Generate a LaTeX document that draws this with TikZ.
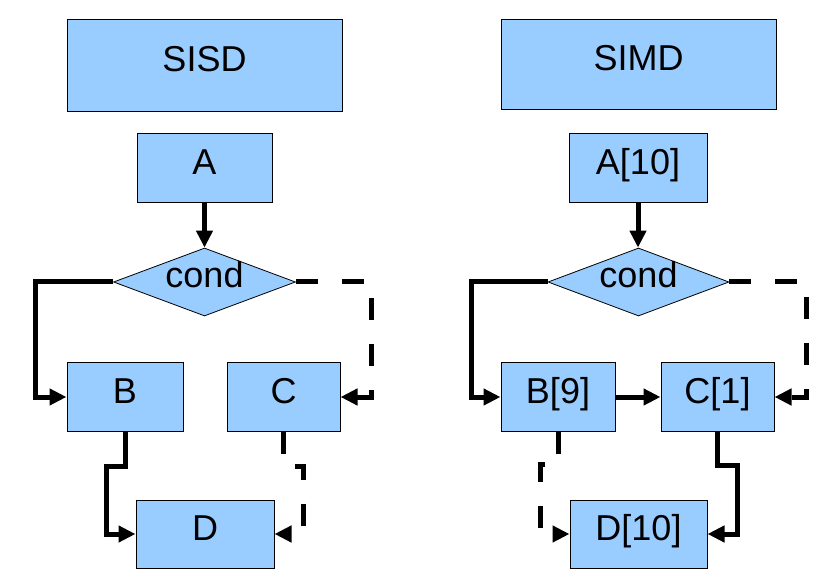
\documentclass[tikz,border=0pt]{standalone}
\usepackage{fontspec}
\setmainfont{Liberation Sans}
\usetikzlibrary{shapes.geometric,arrows.meta}
\definecolor{boxblue}{HTML}{99CCFF}
\tikzset{
  box/.style={draw=black, line width=1pt, fill=boxblue, rectangle, inner sep=0pt,
    font=\fontsize{36}{36}\selectfont, text height=12pt, text depth=0pt},
  dia/.style={draw=black, line width=0.8pt, fill=boxblue, diamond, aspect=2.7, inner sep=0pt,
    minimum width=182pt, minimum height=68pt,
    font=\fontsize{36}{36}\selectfont, text height=12pt, text depth=0pt},
  flow/.style={line width=5pt, -{Triangle[length=17pt 0 0,width=16pt 0 0]}},
  solidflow/.style={flow},
  dashflow/.style={flow, dash pattern=on 22pt off 24pt},
}
\begin{document}
\begin{tikzpicture}[x=1pt,y=-1pt]
\useasboundingbox (0,0) rectangle (833,585);
% SISD
\node[box, minimum width=275pt, minimum height=92pt] (sisd) at (204.5,66) {SISD};
\node[box, minimum width=135pt, minimum height=69pt] (a) at (204.5,168.5) {A};
\node[dia] (cond) at (204.5,282) {cond};
\node[box, minimum width=116pt, minimum height=68pt] (b) at (125,397) {B};
\node[box, minimum width=113pt, minimum height=68pt] (c) at (283.5,397) {C};
\node[box, minimum width=138pt, minimum height=68pt] (d) at (205,534) {D};
\draw[solidflow] (a) -- (cond);
\draw[solidflow] (cond.west) -- ++(-78,0) |- (b.west);
\draw[dashflow] (cond.east) -- ++(76,0) |- (c.east);
\draw[solidflow] (b.south) -- ++(0,35) -- ++(-19,0) |- (d.west);
\draw[dashflow] (c.south) -- ++(0,35) -- ++(20,0) |- (d.east);
% SIMD
\node[box, minimum width=275pt, minimum height=90pt] (simd) at (638.5,65) {SIMD};
\node[box, minimum width=138pt, minimum height=69pt] (a2) at (638,168.5) {A[10]};
\node[dia, minimum width=181pt] (cond2) at (638.5,282) {cond};
\node[box, minimum width=114pt, minimum height=68pt] (b2) at (558,397) {B[9]};
\node[box, minimum width=113pt, minimum height=68pt] (c2) at (717.5,397) {C[1]};
\node[box, minimum width=137pt, minimum height=68pt] (d2) at (638.5,534) {D[10]};
\draw[solidflow] (a2.south) -- (a2.south |- cond2.north);
\draw[solidflow] (cond2.west) -- ++(-76,0) |- (b2.west);
\draw[dashflow] (cond2.east) -- ++(77,0) |- (c2.east);
\draw[solidflow] (b2.east) -- (c2.west);
\draw[dashflow] (b2.south) -- ++(0,33) -- ++(-18,0) |- (d2.west);
\draw[solidflow] (c2.south) -- ++(0,34) -- ++(20,0) |- (d2.east);
\end{tikzpicture}
\end{document}
